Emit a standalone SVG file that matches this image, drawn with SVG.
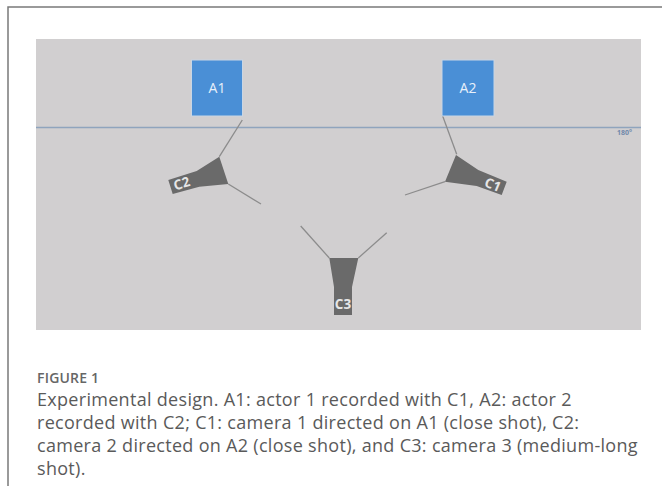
<svg xmlns="http://www.w3.org/2000/svg" width="662" height="486" viewBox="0 0 662 486">
<style>
.frame{fill:none;stroke:#7a7a7a;stroke-width:1.5}
.panel{fill:#d1cfd0}
.actor{fill:#4a8fd6;stroke:#c9d6e4;stroke-width:1}
.alabel{font-family:"Open Sans","Liberation Sans",sans-serif;font-size:14px;fill:#e8f0fa;text-anchor:middle}
.cam{fill:#6a6a6a}
.clabel{font-family:"Open Sans","Liberation Sans",sans-serif;font-size:13.5px;font-weight:bold;fill:#e6e6e6;text-anchor:middle}
.ray{stroke:#8c8c8c;stroke-width:1.3;fill:none}
.horizon{stroke:#8fa4bd;stroke-width:1.5}
.deg{font-family:"Open Sans","Liberation Sans",sans-serif;font-size:7px;font-weight:bold;fill:#7088aa}
.fig{font-family:"Open Sans","Liberation Sans",sans-serif;font-size:14px;font-weight:600;fill:#666;letter-spacing:0.2px}
.cap{font-family:"Open Sans","Liberation Sans",sans-serif;font-size:18px;fill:#5a5a5a;letter-spacing:0.3px}
</style>
<rect width="662" height="486" fill="#ffffff"/>
<path class="frame" d="M8 486 V7 H662"/>
<rect class="panel" x="36" y="39" width="605" height="291"/>
<line class="horizon" x1="36" y1="127.5" x2="641" y2="127.5"/>
<text class="deg" x="617" y="135">180°</text>
<g id="connectors">
<line class="ray" x1="219.3" y1="156.7" x2="242.3" y2="120"/>
<line class="ray" x1="228.3" y1="184" x2="261" y2="204"/>
<line class="ray" x1="456.7" y1="154.3" x2="442.3" y2="115"/>
<line class="ray" x1="445" y1="181.7" x2="405" y2="195"/>
<line class="ray" x1="329.3" y1="258" x2="300.7" y2="226"/>
<line class="ray" x1="358.3" y1="258" x2="386.7" y2="232.7"/>
</g>
<g id="A1">
<rect class="actor" x="191.5" y="60" width="51" height="56"/>
<text class="alabel" x="217" y="93">A1</text>
</g>
<g id="A2">
<rect class="actor" x="442" y="60" width="52" height="56"/>
<text class="alabel" x="468" y="93">A2</text>
</g>
<g id="C2">
<polygon class="cam" points="168.3,180 196.7,171 219.3,156.7 228.3,184 199.3,186.7 172.7,194"/>
<text class="clabel" transform="translate(183,188) rotate(-17)">C2</text>
</g>
<g id="C1">
<polygon class="cam" points="456,155 478.3,170 506.7,181.7 501.7,195 476.7,186 445,181.7"/>
<text class="clabel" transform="translate(491,189) rotate(22)">C1</text>
</g>
<g id="C3">
<polygon class="cam" points="329.3,258 358.3,258 352,287 352,315 334,315 334,287"/>
<text class="clabel" x="343" y="309">C3</text>
</g>
<text class="fig" x="37" y="383">FIGURE 1</text>
<text class="cap" x="37" y="406">Experimental design. A1: actor 1 recorded with C1, A2: actor 2</text>
<text class="cap" x="37" y="429">recorded with C2; C1: camera 1 directed on A1 (close shot), C2:</text>
<text class="cap" x="37" y="452">camera 2 directed on A2 (close shot), and C3: camera 3 (medium-long</text>
<text class="cap" x="37" y="475">shot).</text>
</svg>
